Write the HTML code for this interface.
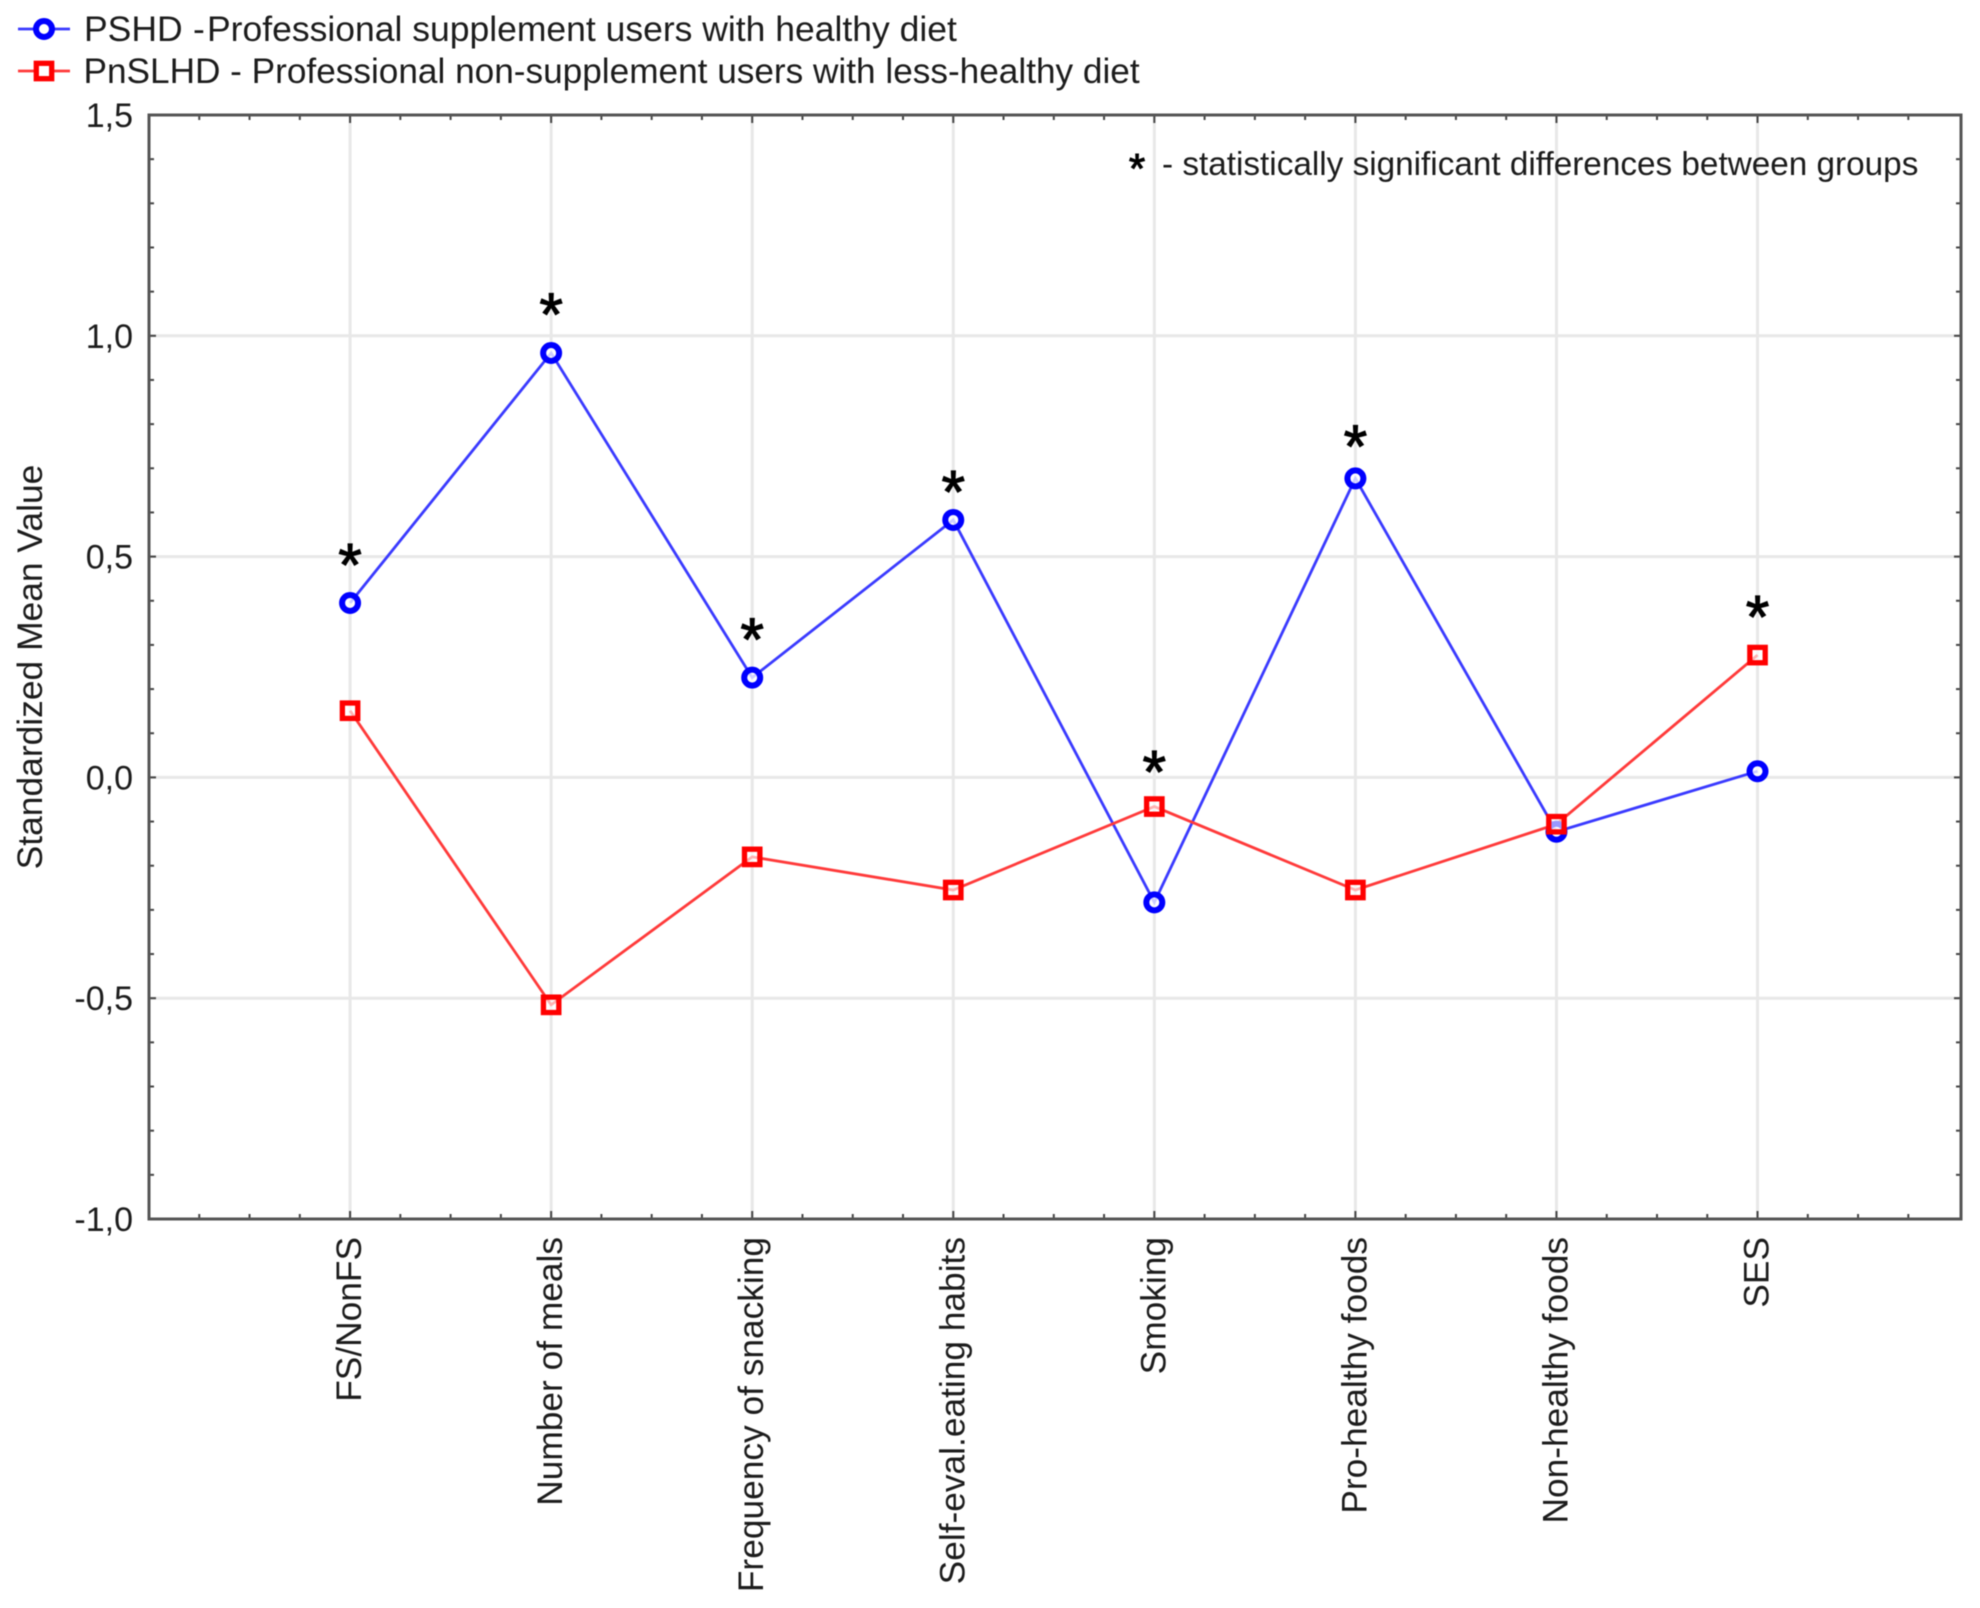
<!DOCTYPE html>
<html lang="en">
<head>
<meta charset="utf-8">
<title>Standardized Mean Value by Group</title>
<style>
html,body{margin:0;padding:0;background:#fff;width:1980px;height:1608px;overflow:hidden}
svg{display:block;filter:blur(0.6px)}
text{font-family:"Liberation Sans",Arial,sans-serif;fill:#1c1c1c}
</style>
</head>
<body>
<svg id="chart" xmlns="http://www.w3.org/2000/svg" width="1980" height="1608" viewBox="0 0 1980 1608">
  <rect x="0" y="0" width="1980" height="1608" fill="#fff"></rect>
  <g id="grid"></g>
  <g id="ticks"></g>
  <rect x="149" y="115" width="1812" height="1104" fill="none" stroke="#555" stroke-width="3"></rect>
  <g id="ylabels"></g>
  <g id="xlabels"></g>
  <text transform="translate(42,667) rotate(-90)" text-anchor="middle" font-size="35.4">Standardized Mean Value</text>
  <g id="series"></g>
  <g id="stars"></g>

  <g>
    <line x1="18" y1="29" x2="70" y2="29" stroke="#3a3aff" stroke-width="2.8"></line>
    <circle cx="44" cy="29" r="8" fill="#fff" stroke="#0000ff" stroke-width="6"></circle>
    <text x="84" y="41" font-size="35.5">PSHD <tspan x="193">-</tspan><tspan x="207">Professional supplement users with healthy diet</tspan></text>
  </g>
  <g>
    <line x1="18" y1="71" x2="70" y2="71" stroke="#ff3a3a" stroke-width="2.8"></line>
    <rect x="36.3" y="63.3" width="15.4" height="15.4" fill="#fff" stroke="#ff0000" stroke-width="5.3"></rect>
    <text x="83.5" y="83" font-size="35.2">PnSLHD - Professional non-supplement users with less-healthy diet</text>
  </g>

  <g>
    <text x="1137" y="183" font-size="42" text-anchor="middle" style="fill:#000;stroke:#000;stroke-width:1">*</text>
    <text x="1162" y="175" font-size="33.3">- statistically significant differences between groups</text>
  </g>
</svg>
<script>
const categories = ["FS/NonFS", "Number of meals", "Frequency of snacking", "Self-eval.eating habits", "Smoking", "Pro-healthy foods", "Non-healthy foods", "SES"];
const pshdValues = [0.395, 0.961, 0.226, 0.583, -0.283, 0.677, -0.123, 0.014];
const pnslhdValues = [0.151, -0.515, -0.18, -0.255, -0.066, -0.255, -0.106, 0.277];
const starLevels = [0.5, 1.067, 0.332, 0.666, 0.031, 0.769, null, 0.383];
const yTickValues = [-1, -0.5, 0, 0.5, 1, 1.5];
const yTickLabels = ["-1,0", "-0,5", "0,0", "0,5", "1,0", "1,5"];

const NS = "http://www.w3.org/2000/svg";
const plot = { left: 149, right: 1961, top: 115, bottom: 1219 };
const xMin = 0, xMax = 9.012, yMin = -1, yMax = 1.5;
function xPos(v) { return plot.left + (v - xMin) / (xMax - xMin) * (plot.right - plot.left); }
function yPos(v) { return plot.bottom - (v - yMin) / (yMax - yMin) * (plot.bottom - plot.top); }
function make(tag, parent, attrs) {
  const el = document.createElementNS(NS, tag);
  for (const k in attrs) el.setAttribute(k, attrs[k]);
  parent.appendChild(el);
  return el;
}
const gridG = document.getElementById("grid");
const ticksG = document.getElementById("ticks");
const ylabelsG = document.getElementById("ylabels");
const xlabelsG = document.getElementById("xlabels");
const seriesG = document.getElementById("series");
const starsG = document.getElementById("stars");

yTickValues.forEach(function (v, i) {
  const y = yPos(v);
  if (v > yMin && v < yMax) {
    const g = make("line", gridG, { x1: plot.left, x2: plot.right, y1: y, y2: y, stroke: "#e8e8e8", "stroke-width": 3 });
    
    
  }
  const t = make("text", ylabelsG, { x: 133, y: y + 12, "text-anchor": "end", "font-size": 34 });
  t.textContent = yTickLabels[i];
  
  
});

for (let v = 0; v <= 25; v++) {
  const val = yMin + v * 0.1;
  const y = yPos(val);
  const len = v % 5 === 0 ? 7 : 5;
  const a = make("line", ticksG, { x1: plot.left, x2: plot.left + len, y1: y, y2: y, stroke: "#444", "stroke-width": 2 });
  
  
  const b = make("line", ticksG, { x1: plot.right, x2: plot.right - len, y1: y, y2: y, stroke: "#444", "stroke-width": 2 });
  
  
}
for (let q = 0; q < 36; q++) {
  const x = xPos(q / 4);
  const len = q % 4 === 0 ? 8 : 5;
  const a = make("line", ticksG, { x1: x, x2: x, y1: plot.bottom, y2: plot.bottom - len, stroke: "#444", "stroke-width": 2 });
  
  
  const b = make("line", ticksG, { x1: x, x2: x, y1: plot.top, y2: plot.top + len, stroke: "#444", "stroke-width": 2 });
  
  
}

categories.forEach(function (name, i) {
  const x = xPos(i + 1);
  const g = make("line", gridG, { x1: x, x2: x, y1: plot.top, y2: plot.bottom, stroke: "#e8e8e8", "stroke-width": 3 });
  
  
  const t = make("text", xlabelsG, { transform: "translate(" + (x + 11) + ",1237) rotate(-90)", "text-anchor": "end", "font-size": 35.3 });
  t.textContent = name;
  
  
});

function linePoints(values) {
  return values.map(function (v, i) { return xPos(i + 1) + "," + yPos(v); }).join(" ");
}
const pshdLine = make("polyline", seriesG, { points: linePoints(pshdValues), fill: "none", stroke: "#3a3aff", "stroke-width": 2.8 });


const pnslhdLine = make("polyline", seriesG, { points: linePoints(pnslhdValues), fill: "none", stroke: "#ff3a3a", "stroke-width": 2.8 });



pshdValues.forEach(function (v, i) {
  const c = make("circle", seriesG, { cx: xPos(i + 1), cy: yPos(v), r: 8, fill: "#fff", "fill-opacity": 0.75, stroke: "#0000ff", "stroke-width": 6 });
  
  
});
pnslhdValues.forEach(function (v, i) {
  const r = make("rect", seriesG, { x: xPos(i + 1) - 7.7, y: yPos(v) - 7.7, width: 15.4, height: 15.4, fill: "#fff", "fill-opacity": 0.6, stroke: "#ff0000", "stroke-width": 5.3 });
  
  
});

starLevels.forEach(function (v, i) {
  if (v === null) return;
  const t = make("text", starsG, { x: xPos(i + 1), y: yPos(v) + 29, "text-anchor": "middle", "font-size": 60, style: "fill:#000;stroke:#000;stroke-width:1.2" });
  t.textContent = "*";
  
  
});
</script>
</body>
</html>
